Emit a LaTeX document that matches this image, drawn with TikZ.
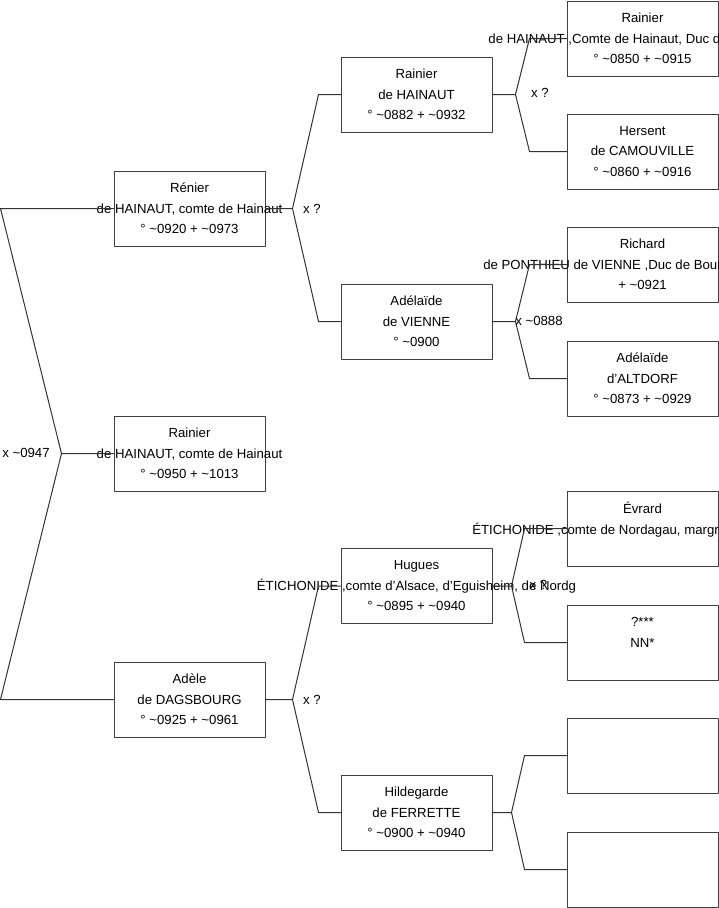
\documentclass[tikz,border=0pt]{standalone}
\usepackage{fontspec}
\setmainfont{Liberation Sans}
\usepackage{tikz}
\usetikzlibrary{positioning, calc}
\newcommand{\tld}{\textasciitilde}
\tikzset{
    every path/.style={line cap=round, line join=round},
    person/.style={draw=black!75, line width=1pt, minimum width=151pt, minimum height=75pt, inner sep=0pt},
    names/.style={align=center, inner sep=0pt, font=\fontsize{13.2}{20.5}\selectfont},
    union/.style={inner sep=0pt, font=\fontsize{13.2}{20.5}\selectfont},
    link/.style={draw=black!80, line width=1pt}
}

\begin{document}
\begin{tikzpicture}[x=1pt, y=-1pt]
    \useasboundingbox (0,0) rectangle (719,908);

    % generation 1
    \node [person, label={[names]center:Rénier\\de HAINAUT, comte de Hainaut\\° \tld0920 + \tld0973}] (renier) at (189.5,208.5) {};
    \node [person, label={[names]center:Rainier\\de HAINAUT, comte de Hainaut\\° \tld0950 + \tld1013}] (rainier) at (189.5,453.5) {};
    \node [person, label={[names]center:Adèle\\de DAGSBOURG\\° \tld0925 + \tld0961}] (adele) at (189.5,699.5) {};

    % generation 2
    \node [person, label={[names]center:Rainier\\de HAINAUT\\° \tld0882 + \tld0932}] (rainierHainaut) at (416.5,94.5) {};
    \node [person, label={[names]center:Adélaïde\\de VIENNE\\° \tld0900}] (adelaideVienne) at (416.5,321.5) {};
    \node [person, label={[names]center:Hugues\\ÉTICHONIDE ,comte d'Alsace, d'Eguisheim, de Nordg\\° \tld0895 + \tld0940}] (hugues) at (416.5,586) {};
    \node [person, label={[names]center:Hildegarde\\de FERRETTE\\° \tld0900 + \tld0940}] (hildegarde) at (416.5,812.5) {};

    % generation 3
    \node [person, label={[names]center:Rainier\\de HAINAUT ,Comte de Hainaut, Duc de Lotharingie\\° \tld0850 + \tld0915}] (rainierDuc) at (642.5,38.5) {};
    \node [person, label={[names]center:Hersent\\de CAMOUVILLE\\° \tld0860 + \tld0916}] (hersent) at (642.5,151.5) {};
    \node [person, label={[names]center:Richard\\de PONTHIEU de VIENNE ,Duc de Bourgogne, comte\\+ \tld0921}] (richard) at (642.5,264.5) {};
    \node [person, label={[names]center:Adélaïde\\d'ALTDORF\\° \tld0873 + \tld0929}] (adelaideAltdorf) at (642.5,378.5) {};
    \node [person, label={[names]center:Évrard\\ÉTICHONIDE ,comte de Nordagau, margrave de Nordgau\\\mbox{}}] (evrard) at (642.5,528.5) {};
    \node [person, label={[names]center:?***\\NN*\\\mbox{}}] (nnMere) at (642.5,642.5) {};
    \node [person] (blankA) at (642.5,755.5) {};
    \node [person] (blankB) at (642.5,869.5) {};

    % unions
    \coordinate (xRainier) at ([xshift=-52]rainier.west);
    \draw [link] (rainier.west) -- (xRainier) -- ([xshift=-113]renier.west) -- (renier.west);
    \draw [link] (xRainier) -- ([xshift=-113]adele.west) -- (adele.west);
    \node [union] (uRainier) at (26,453) {x \tld0947};

    \coordinate (xRenier) at ([xshift=27]renier.east);
    \draw [link] (renier.east) -- (xRenier) -- ([xshift=-22]rainierHainaut.west) -- (rainierHainaut.west);
    \draw [link] (xRenier) -- ([xshift=-22]adelaideVienne.west) -- (adelaideVienne.west);
    \node [union] (uRenier) at (312,208.5) {x ?};

    \coordinate (xAdele) at ([xshift=27]adele.east);
    \draw [link] (adele.east) -- (xAdele) -- ([xshift=-22]hugues.west) -- (hugues.west);
    \draw [link] (xAdele) -- ([xshift=-22]hildegarde.west) -- (hildegarde.west);
    \node [union] (uAdele) at (312,699.5) {x ?};

    \coordinate (xRainierHainaut) at ([xshift=23]rainierHainaut.east);
    \draw [link] (rainierHainaut.east) -- (xRainierHainaut) -- ([xshift=-37]rainierDuc.west) -- (rainierDuc.west);
    \draw [link] (xRainierHainaut) -- ([xshift=-37]hersent.west) -- (hersent.west);
    \node [union] (uRainierHainaut) at (540,93) {x ?};

    \coordinate (xAdelaideVienne) at ([xshift=23]adelaideVienne.east);
    \draw [link] (adelaideVienne.east) -- (xAdelaideVienne) -- ([xshift=-37]richard.west) -- (richard.west);
    \draw [link] (xAdelaideVienne) -- ([xshift=-37]adelaideAltdorf.west) -- (adelaideAltdorf.west);
    \node [union] (uAdelaideVienne) at (539,321) {x \tld0888};

    \coordinate (xHugues) at ([xshift=19]hugues.east);
    \draw [link] (hugues.east) -- (xHugues) -- ([xshift=-42]evrard.west) -- (evrard.west);
    \draw [link] (xHugues) -- ([xshift=-42]nnMere.west) -- (nnMere.west);
    \node [union] (uHugues) at (538.5,585) {x ?};

    \coordinate (xHildegarde) at ([xshift=19]hildegarde.east);
    \draw [link] (hildegarde.east) -- (xHildegarde) -- ([xshift=-42]blankA.west) -- (blankA.west);
    \draw [link] (xHildegarde) -- ([xshift=-42]blankB.west) -- (blankB.west);
\end{tikzpicture}
\end{document}
